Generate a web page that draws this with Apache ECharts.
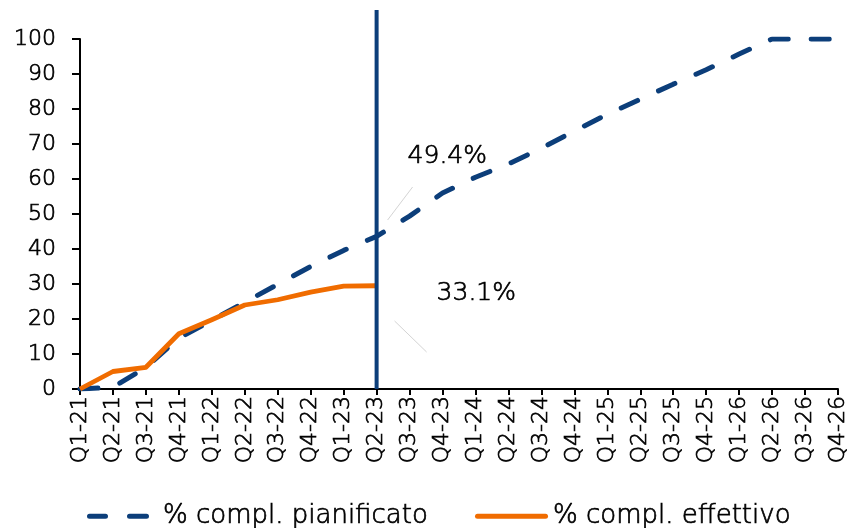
<!DOCTYPE html>
<html>
<head>
<meta charset="utf-8">
<script src="https://cdn.jsdelivr.net/npm/echarts@6/dist/echarts.min.js"></script>
<style>
  html, body { margin: 0; padding: 0; background: #fff; }
  #chart { width: 850px; height: 528px; }
</style>
</head>
<body>
<div id="chart"></div>
<script>
// Quarters on the horizontal axis
const quarters = [
  'Q1-21', 'Q2-21', 'Q3-21', 'Q4-21',
  'Q1-22', 'Q2-22', 'Q3-22', 'Q4-22',
  'Q1-23', 'Q2-23', 'Q3-23', 'Q4-23',
  'Q1-24', 'Q2-24', 'Q3-24', 'Q4-24',
  'Q1-25', 'Q2-25', 'Q3-25', 'Q4-25',
  'Q1-26', 'Q2-26', 'Q3-26', 'Q4-26'
];

// Planned cumulative completion (%)
const planned = [
  0, 0.5, 6.2, 14.5, 19.6, 24.8, 29.9, 35.0,
  39.6, 43.6, 49.4, 56.0, 60.5, 64.3, 68.8, 73.7,
  78.5, 82.8, 87.1, 91.2, 95.7, 100, 100, 100
];

// Actual cumulative completion (%), reported up to the current quarter
const actual = [
  0, 5.0, 6.2, 15.8, 19.8, 24.0, 25.5, 27.7,
  29.4, 29.5, null, null, null, null, null, null,
  null, null, null, null, null, null, null, null
];

// Y axis ticks
const yTicks = [0, 10, 20, 30, 40, 50, 60, 70, 80, 90, 100];

// Current reporting quarter and the two callout values
const currentQuarter = 'Q2-23';
const calloutValues = [planned[10], 33.1];

const seriesNames = ['% compl. pianificato', '% compl. effettivo'];

const NAVY = '#0c3e7a';
const ORANGE = '#f06c00';
const FONT = '"DejaVu Sans"';
const WEIGHT = 200;
// a thin outline gives the light face a regular stroke weight
const TXT = { color: '#000', fontFamily: FONT, fontWeight: WEIGHT, textBorderColor: '#000', textBorderWidth: 0.7 };

const chart = echarts.init(document.getElementById('chart'), null, { renderer: 'canvas' });

const option = {
  animation: false,
  backgroundColor: '#ffffff',
  textStyle: { fontFamily: FONT, color: '#000', fontWeight: WEIGHT },
  grid: { left: 80, right: 12, top: 39, bottom: 139, containLabel: false },
  xAxis: {
    type: 'category',
    data: quarters,
    boundaryGap: false,
    axisLine: { lineStyle: { color: '#000', width: 2 } },
    axisTick: { show: true, length: 6, lineStyle: { color: '#000', width: 2 } },
    axisLabel: Object.assign({ interval: 0, rotate: 90, margin: 7, fontSize: 22 }, TXT),
    splitLine: { show: false }
  },
  yAxis: {
    type: 'value',
    min: yTicks[0],
    max: yTicks[yTicks.length - 1],
    interval: yTicks[1] - yTicks[0],
    axisLine: { show: true, lineStyle: { color: '#000', width: 2 } },
    axisTick: { show: true, length: 8, lineStyle: { color: '#000', width: 2 } },
    axisLabel: Object.assign({ margin: 24, fontSize: 22 }, TXT),
    splitLine: { show: false }
  },
  legend: [
    {
      data: [{
        name: seriesNames[0],
        icon: 'path://M2.5,0 L18.5,0 A2.5,2.5 0 0 1 18.5,5 L2.5,5 A2.5,2.5 0 0 1 2.5,0 Z M42.5,0 L59.5,0 A2.5,2.5 0 0 1 59.5,5 L42.5,5 A2.5,2.5 0 0 1 42.5,0 Z'
      }],
      left: 87, top: 503, padding: 0,
      itemWidth: 62, itemHeight: 5, symbolKeepAspect: false,
      selectedMode: false,
      textStyle: Object.assign({ fontSize: 26, padding: [0, 0, 0, 9] }, TXT)
    },
    {
      data: [{
        name: seriesNames[1],
        icon: 'path://M2.5,0 L70.5,0 A2.5,2.5 0 0 1 70.5,5 L2.5,5 A2.5,2.5 0 0 1 2.5,0 Z'
      }],
      left: 475, top: 503, padding: 0,
      itemWidth: 73, itemHeight: 5, symbolKeepAspect: false,
      selectedMode: false,
      textStyle: Object.assign({ fontSize: 26, padding: [0, 0, 0, 0] }, TXT)
    }
  ],
  series: [
    {
      name: seriesNames[0],
      type: 'line',
      data: planned,
      symbol: 'none',
      smooth: false,
      z: 2,
      itemStyle: { color: NAVY },
      lineStyle: { color: NAVY, width: 5, type: [18, 23], cap: 'round' }
    },
    {
      name: seriesNames[1],
      type: 'line',
      data: actual,
      symbol: 'none',
      smooth: false,
      connectNulls: false,
      z: 3,
      itemStyle: { color: ORANGE },
      lineStyle: { color: ORANGE, width: 4.8, cap: 'butt', join: 'round' }
    }
  ]
};

chart.setOption(option);

// Reporting-date marker and callouts, placed through the axis scales
const xNow = chart.convertToPixel({ xAxisIndex: 0 }, currentQuarter);
const yZero = chart.convertToPixel({ yAxisIndex: 0 }, 0);

const calloutStyle = {
  fontSize: 25, fontFamily: FONT, fontWeight: WEIGHT, fill: '#000',
  stroke: '#000', lineWidth: 0.7,
  verticalAlign: 'middle', align: 'left'
};

chart.setOption({
  graphic: [
    {
      type: 'line', z: 10,
      shape: { x1: xNow, y1: 10, x2: xNow, y2: yZero },
      style: { stroke: NAVY, lineWidth: 4 }
    },
    {
      type: 'line', z: 9,
      shape: { x1: xNow + 11, y1: 220, x2: xNow + 36, y2: 187 },
      style: { stroke: '#d4d4d4', lineWidth: 1 }
    },
    {
      type: 'text', z: 9,
      style: Object.assign({ x: xNow + 31, y: 156, text: calloutValues[0].toFixed(1) + '%' }, calloutStyle)
    },
    {
      type: 'line', z: 9,
      shape: { x1: xNow + 18, y1: 321, x2: xNow + 50, y2: 352 },
      style: { stroke: '#d4d4d4', lineWidth: 1 }
    },
    {
      type: 'text', z: 9,
      style: Object.assign({ x: xNow + 60, y: 293, text: calloutValues[1].toFixed(1) + '%' }, calloutStyle)
    }
  ]
});
</script>
</body>
</html>
